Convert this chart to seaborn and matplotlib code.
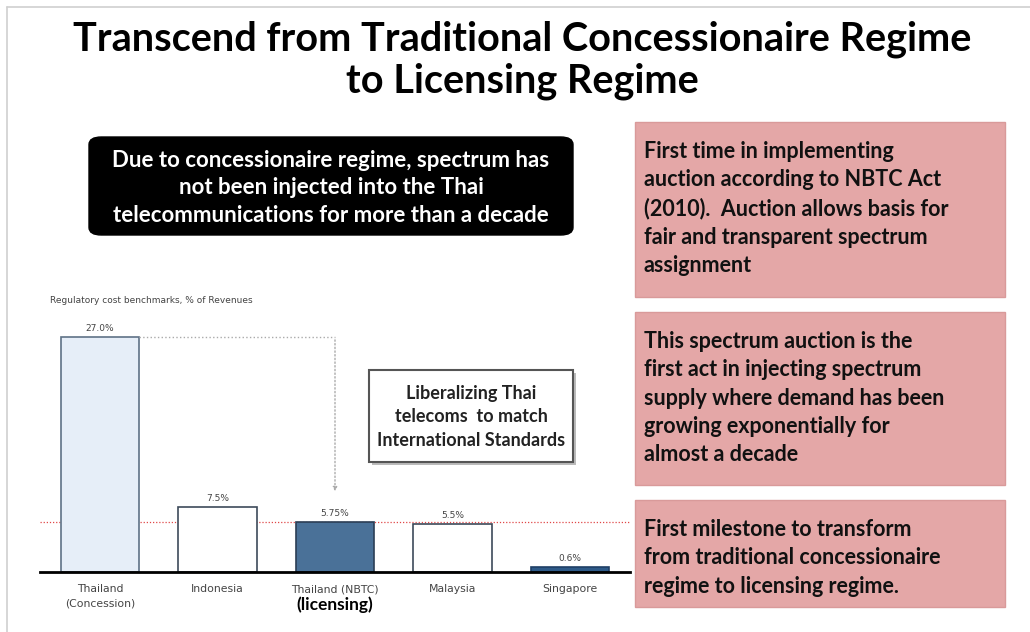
import pandas as pd
import matplotlib.pyplot as plt
import seaborn as sns
from matplotlib.patches import Rectangle, FancyBboxPatch

# data
countries = ['Thailand\n(Concession)', 'Indonesia', 'Thailand (NBTC)', 'Malaysia', 'Singapore']
cost_pct = [27.0, 7.5, 5.75, 5.5, 0.6]
value_labels = ['27.0%', '7.5%', '5.75%', '5.5%', '0.6%']
bar_fills = ['#E6EEF8', '#FFFFFF', '#4A7198', '#FFFFFF', '#2E5A88']
bar_edges = ['#5F7286', '#3D4A5A', '#2B3E55', '#3D4A5A', '#1F3F66']

title = 'Transcend from Traditional Concessionaire Regime\nto Licensing Regime'
black_note = ('Due to concessionaire regime, spectrum has\nnot been injected into the Thai\n'
              'telecommunications for more than a decade')
box_note = 'Liberalizing Thai\ntelecoms  to match\nInternational Standards'
side_notes = [
    'First time in implementing\nauction according to NBTC Act\n(2010).  Auction allows basis for\n'
    'fair and transparent spectrum\nassignment',
    'This spectrum auction is the\nfirst act in injecting spectrum\nsupply where demand has been\n'
    'growing exponentially for\nalmost a decade',
    'First milestone to transform\nfrom traditional concessionaire\nregime to licensing regime.',
]

sns.set_theme(style='white')
plt.rcParams['font.family'] = ['Lato', 'DejaVu Sans']

W, H = 1030, 632
fig = plt.figure(figsize=(W / 100, H / 100), dpi=100)
fig.patch.set_facecolor('white')


def fx(x):
    return x / W


def fy(y):
    return 1 - y / H


# slide frame (top and left edges only)
fig.add_artist(plt.Line2D([fx(7), fx(1030)], [fy(7), fy(7)], color='#D0D0D0', lw=1.2))
fig.add_artist(plt.Line2D([fx(7), fx(7)], [fy(7), fy(632)], color='#D0D0D0', lw=1.2))

fig.text(fx(522), fy(60), title, ha='center', va='center', fontsize=28.5,
         fontweight='bold', color='black', linespacing=1.14)

# black rounded note
fig.add_artist(FancyBboxPatch((fx(89), fy(235)), fx(484), 98 / H,
                              boxstyle='round,pad=0,rounding_size=0.012',
                              transform=fig.transFigure, facecolor='black', edgecolor='black'))
fig.text(fx(331), fy(188), black_note, ha='center', va='center', fontsize=16,
         fontweight='bold', color='white', linespacing=1.38)

# pink side boxes
pink_boxes = [(122, 297), (312, 485), (500, 607)]
for (y0, y1), note in zip(pink_boxes, side_notes):
    fig.add_artist(Rectangle((fx(635), fy(y1)), fx(370), (y1 - y0) / H,
                             transform=fig.transFigure, facecolor='#E4A7A7',
                             edgecolor='#D99A9A', lw=1))
    fig.text(fx(644), fy(y0 + 19), note, ha='left', va='top', fontsize=15.5,
             fontweight='bold', color='#111111', linespacing=1.43)

# bar chart
ax = fig.add_axes([fx(40), 60 / H, fx(590), 261 / H])
df = pd.DataFrame({'country': countries, 'pct': cost_pct})
sns.barplot(data=df, x='country', y='pct', hue='country', palette=bar_fills,
            legend=False, width=0.67, ax=ax, saturation=1)
for patch, ec in zip(ax.patches, bar_edges):
    patch.set_edgecolor(ec)
    patch.set_linewidth(1.2)
for cont, lab in zip(ax.containers, value_labels):
    ax.bar_label(cont, labels=[lab], padding=3, fontsize=6.5, color='#444444',
                 family='DejaVu Sans')

ax.set_xlim(-0.51, 4.51)
ax.set_ylim(0, 30)
ax.set_xlabel('')
ax.set_ylabel('')
ax.set_yticks([])
ax.tick_params(axis='x', length=0, pad=9, labelsize=7.8, colors='#444444')
for lbl in ax.get_xticklabels():
    lbl.set_family('DejaVu Sans')
    lbl.set_linespacing(1.5)
for side in ['top', 'left', 'right']:
    ax.spines[side].set_visible(False)
ax.spines['bottom'].set_color('black')
ax.spines['bottom'].set_linewidth(2)
ax.patch.set_alpha(0)

# benchmark line at the NBTC level
ax.axhline(cost_pct[2], color='#E04848', ls=(0, (1, 1.5)), lw=0.9, zorder=0)

# dotted connector from concession bar to NBTC bar
x_right = 0 + 0.67 / 2
ax.plot([x_right, 2], [cost_pct[0], cost_pct[0]], color='#AAAAAA', ls=':', lw=1)
ax.annotate('', xy=(2, cost_pct[2] + 3.2), xytext=(2, cost_pct[0]),
            arrowprops=dict(arrowstyle='-|>', color='#AAAAAA', ls=':', lw=1,
                            mutation_scale=6))

ax.text(0.017, 1.042, 'Regulatory cost benchmarks, % of Revenues', transform=ax.transAxes,
        fontsize=6.5, color='#444444', family='DejaVu Sans', ha='left', va='center')
ax.text(2, -0.095, '(licensing)', transform=ax.get_xaxis_transform(), ha='center',
        va='top', fontsize=12.5, fontweight='bold', color='black')

# liberalizing note box
fig.add_artist(Rectangle((fx(372), fy(465)), fx(204), 92 / H, transform=fig.transFigure,
                         facecolor='#BBBBBB', edgecolor='none'))
fig.add_artist(Rectangle((fx(369), fy(462)), fx(204), 92 / H, transform=fig.transFigure,
                         facecolor='white', edgecolor='#555555', lw=1.5))
fig.text(fx(471), fy(417), box_note, ha='center', va='center', fontsize=13,
         fontweight='bold', color='#222222', linespacing=1.45)

fig.savefig('out.png', dpi=100)
